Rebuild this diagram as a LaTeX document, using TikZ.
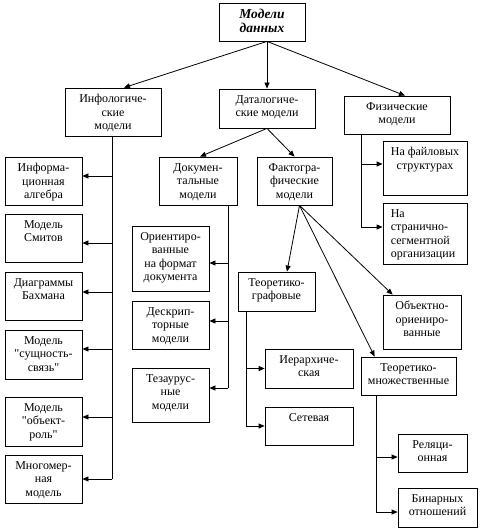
\documentclass[tikz,border=0pt]{standalone}
\usepackage{fontspec}
\setmainfont{Liberation Serif}[Ligatures=TeXOff]
\usetikzlibrary{arrows.meta,calc}
\newcommand\mybox[6]{%
  \node[box, minimum width={(#4-#2)*1pt}, minimum height={(#5-#3)*1pt}] (#1) at ({(#2+#4)/2},{(#3+#5)/2}) {};
  \node[txt, anchor=north] (#1t) at ([yshift=-6.5pt]#1.north) {#6};}
\begin{document}
\begin{tikzpicture}[x=1pt,y=-1pt,
  box/.style={draw, line width=0.8pt, fill=white, inner sep=0pt, rectangle},
  txt/.style={inner sep=0pt, align=center, font=\fontsize{12}{13.5}\selectfont},
  ln/.style={line width=0.8pt},
  arr/.style={line width=0.8pt, -{Triangle[length=6pt,width=5pt]}}]
\useasboundingbox (0,0) rectangle (481,532);
\fill[white] (0,0) rectangle (481,532);
% top box
\node[box, minimum width=86pt, minimum height=38pt] (top) at (262,22) {};
\node[inner sep=0pt, align=center, anchor=north, font=\fontsize{13.5}{14.5}\selectfont\bfseries\itshape] (topt) at ([yshift=-6pt]top.north) {Модели\\данных};
% level 1
\mybox{info}{65}{88}{161}{136}{Инфологиче-\\ские\\модели}
\mybox{data}{219}{89}{315}{128}{Даталогиче-\\ские модели}
\mybox{phys}{344}{96}{450}{134}{Физические\\модели}
% left column
\mybox{ia}{5}{157}{82}{205}{Информа-\\ционная\\алгебра}
\mybox{smith}{5}{214}{82}{262}{Модель\\Смитов}
\mybox{bach}{5}{272}{82}{320}{Диаграммы\\Бахмана}
\mybox{er}{5}{330}{82}{379}{Модель\\"сущность-\\связь"}
\mybox{orl}{5}{397}{82}{446}{Модель\\"объект-\\роль"}
\mybox{mm}{5}{455}{82}{503}{Многомер-\\ная\\модель}
% documentary
\mybox{doc}{159}{157}{237}{205}{Докумен-\\тальные\\модели}
\mybox{orf}{132}{226}{209}{291}{Ориентиро-\\ванные\\на формат\\документа}
\mybox{desc}{132}{301}{209}{349}{Дескрип-\\торные\\модели}
\mybox{thes}{132}{368}{209}{422}{Тезаурус-\\ные\\модели}
% factographic
\mybox{fact}{257}{157}{332}{205}{Фактогра-\\фические\\модели}
\mybox{tg}{238}{272}{315}{311}{Теоретико-\\графовые}
\mybox{hier}{265}{349}{353}{388}{Иерархиче-\\ская}
\mybox{net}{265}{407}{353}{445}{Сетевая}
\mybox{oo}{383}{295}{461}{349}{Объектно-\\ориениро-\\ванные}
\mybox{tm}{361}{357}{456}{395}{Теоретико-\\множественные}
\mybox{rel}{398}{434}{467}{472}{Реляци-\\онная}
\mybox{bin}{398}{488}{477}{527}{Бинарных\\отношений}
% physical
\mybox{file}{383}{141}{467}{195}{На файловых\\структурах}
\node[box, minimum width=84pt, minimum height=61pt] (page) at (425,233.5) {};
\node[txt, align=left, anchor=north west] (paget) at ([xshift=8pt,yshift=-6.5pt]page.north west) {На\\странично-\\сегментной\\организации};
% top connectors
\coordinate (topS) at ([xshift=5pt]top.south);
\draw[arr] (topS) -- ([xshift=11pt]info.north);
\draw[arr] (topS) -- (data.north);
\draw[arr] (topS) -- ([xshift=8pt]phys.north);
\draw[arr] (data.south) -- ([xshift=2pt]doc.north);
\draw[arr] (data.south) -- (fact.north);
% info trunk
\coordinate (iaP) at ([yshift=5pt]ia.east);
\coordinate (smithP) at ([yshift=-5pt]smith.east);
\coordinate (bachP) at ([yshift=4pt]bach.east);
\coordinate (erP) at ([yshift=5.5pt]er.east);
\coordinate (orlP) at ([yshift=4.5pt]orl.east);
\coordinate (mmP) at (mm.east);
\coordinate (infoT) at ([xshift=-1pt]info.south);
\draw[ln] (infoT) -- (infoT |- mmP);
\foreach \p in {iaP,smithP,bachP,erP,orlP,mmP} \draw[arr] (infoT |- \p) -- (\p);
% doc trunk
\coordinate (docT) at ([xshift=30pt]doc.south);
\coordinate (orfP) at ([yshift=-4.5pt]orf.east);
\coordinate (descP) at ([yshift=4pt]desc.east);
\coordinate (thesP) at ([yshift=7pt]thes.east);
\draw[ln] (docT) -- (docT |- thesP);
\foreach \p in {orfP,descP,thesP} \draw[arr] (docT |- \p) -- (\p);
% phys trunk
\coordinate (physT) at ([xshift=-36pt]phys.south);
\coordinate (fileP) at ([yshift=4pt]file.west);
\coordinate (pageP) at ([yshift=6.5pt]page.west);
\draw[ln] (physT) -- (physT |- pageP);
\foreach \p in {fileP,pageP} \draw[arr] (physT |- \p) -- (\p);
% fact connectors
\coordinate (factS) at ([xshift=5pt]fact.south);
\draw[arr] (factS) -- ([xshift=10.5pt]tg.north);
\draw[arr] (factS) -- ([xshift=10pt]oo.north west);
\draw[arr] (factS) -- ([xshift=14pt]tm.north west);
% tg trunk
\coordinate (tgT) at ([xshift=-30.5pt]tg.south);
\draw[ln] (tgT) -- (tgT |- net.west);
\foreach \p in {hier.west,net.west} \draw[arr] (tgT |- \p) -- (\p);
% tm trunk
\coordinate (tmT) at ([xshift=-32.5pt]tm.south);
\coordinate (relP) at ([yshift=-4pt]rel.west);
\coordinate (binP) at ([yshift=-4.5pt]bin.west);
\draw[ln] (tmT) -- (tmT |- binP);
\foreach \p in {relP,binP} \draw[arr] (tmT |- \p) -- (\p);
\end{tikzpicture}
\end{document}
